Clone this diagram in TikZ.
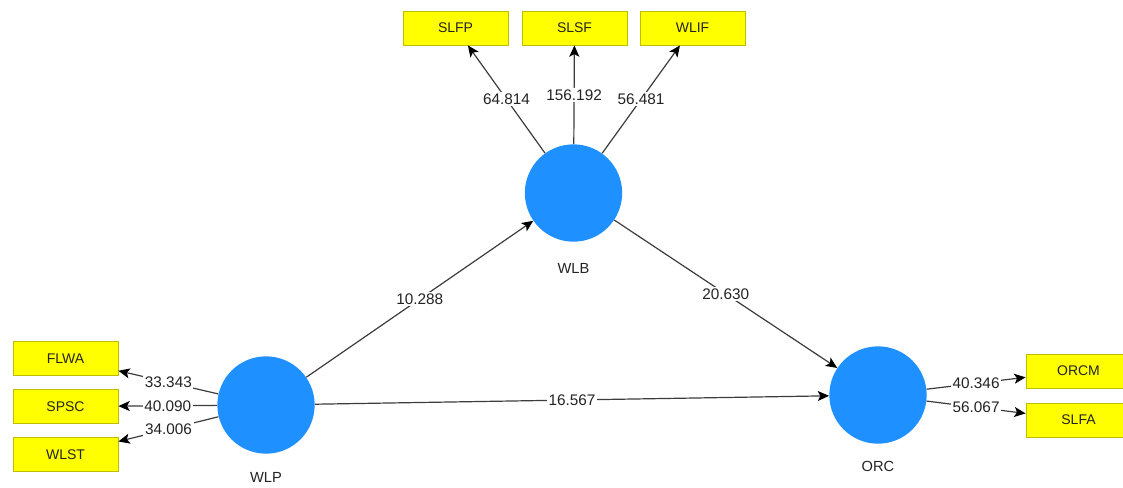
\documentclass[tikz,border=0pt]{standalone}
\usepackage{fontspec}
\setmainfont{Liberation Sans}
\usetikzlibrary{arrows.meta}
\definecolor{lvblue}{RGB}{30,144,255}
\definecolor{indyellow}{RGB}{255,255,0}
\definecolor{indborder}{RGB}{190,190,0}
\definecolor{edgegray}{RGB}{60,60,60}
\definecolor{txt}{RGB}{35,35,35}
\tikzset{
  latent/.style={circle, fill=lvblue, draw=none, minimum size=73pt, inner sep=0pt},
  indicator/.style={rectangle, fill=indyellow, draw=indborder, line width=0.6pt, minimum width=78.75pt, minimum height=25.5pt, inner sep=0pt, font=\fontsize{10.5}{12}\selectfont, text=txt},
  lvlabel/.style={font=\fontsize{11}{12}\selectfont, text=txt},
  conn/.style={draw=edgegray, line width=0.9pt, -{Stealth[length=8.5pt,width=7.5pt,inset=2pt,color=black]}},
  val/.style={midway, fill=white, inner sep=1.2pt, font=\fontsize{11.5}{12}\selectfont, text=txt}
}
\begin{document}
\begin{tikzpicture}[x=0.75pt,y=-0.75pt]
\useasboundingbox (0,0) rectangle (1123,487);
\clip (0,0) rectangle (1123,487);
% latent variables
\node[latent] (WLB) at (573.5,193) {};
\node[latent] (WLP) at (266,405) {};
\node[latent] (ORC) at (878,395) {};
\node[lvlabel] (WLBl) at (573.5,268) {WLB};
\node[lvlabel] (WLPl) at (266,477) {WLP};
\node[lvlabel] (ORCl) at (878,466) {ORC};
% indicators
\node[indicator] (SLFP) at (455.5,28) {SLFP};
\node[indicator] (SLSF) at (574.5,28) {SLSF};
\node[indicator] (WLIF) at (692.5,28) {WLIF};
\node[indicator] (FLWA) at (65.5,358.5) {FLWA};
\node[indicator] (SPSC) at (65.5,406.5) {SPSC};
\node[indicator] (WLST) at (65.5,454.5) {WLST};
\node[indicator] (ORCM) at (1078.5,371) {ORCM};
\node[indicator] (SLFA) at (1078.5,420) {SLFA};
% outer model
\draw[conn] (WLB) -- node[val] {64.814} (SLFP);
\draw[conn] (WLB) -- node[val] {156.192} (SLSF);
\draw[conn] (WLB) -- node[val] {56.481} (WLIF);
\draw[conn] (WLP) -- node[val] {33.343} (FLWA);
\draw[conn] (WLP) -- node[val] {40.090} (SPSC);
\draw[conn] (WLP) -- node[val] {34.006} (WLST);
\draw[conn] (ORC) -- node[val] {40.346} (ORCM);
\draw[conn] (ORC) -- node[val] {56.067} (SLFA);
% inner model
\draw[conn] (WLP) -- node[val] {10.288} (WLB);
\draw[conn] (WLB) -- node[val] {20.630} (ORC);
\draw[conn] (WLP) -- node[val] {16.567} (ORC);
\end{tikzpicture}
\end{document}
